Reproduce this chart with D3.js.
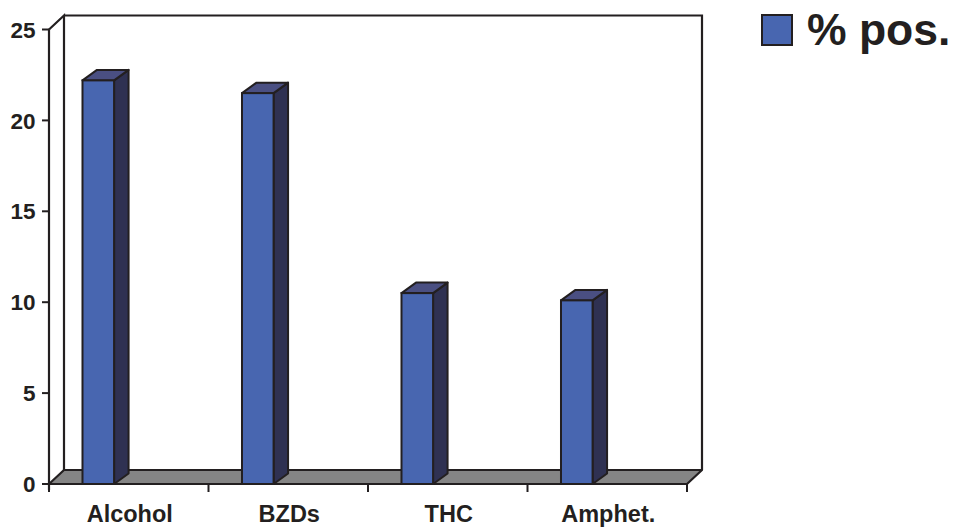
<!DOCTYPE html>
<html>
<head>
<meta charset="utf-8">
<script src="https://cdn.jsdelivr.net/npm/d3@7/dist/d3.min.js"></script>
<style>
  html, body { margin: 0; padding: 0; background: #fff; }
  svg { display: block; }
  text { font-family: "Liberation Sans", Arial, sans-serif; font-weight: bold; fill: #231f20; }
</style>
</head>
<body>
<svg id="chart" width="962" height="527"></svg>
<script>
// Share of positive samples per substance
const categories = ["Alcohol", "BZDs", "THC", "Amphet."];
const percentPositive = [22.2, 21.5, 10.5, 10.1];
const yTicks = [0, 5, 10, 15, 20, 25];
const seriesName = "% pos.";

const ink = "#231f20";
const frontBlue = "#4866b0", sideBlue = "#2f3152", topBlue = "#4a4f82";
const floorGrey = "#858585";

// front plane of the 3D box
const plotLeft = 49, plotRight = 687, plotBottom = 484, plotTop = 29.5;
// depth offset of the walls and of the columns
const wallDx = 15, wallDy = -14;
const barDx = 14.5, barDy = -10.5;

const svg = d3.select("#chart");

const x = d3.scaleBand().domain(categories).range([plotLeft, plotRight]).padding(0);
const y = d3.scaleLinear().domain([0, 25]).range([plotBottom, plotTop]);

const line = d3.line();

// back wall
svg.append("path")
  .attr("d", line([[plotLeft + wallDx, y(25) + wallDy], [plotRight + wallDx, y(25) + wallDy],
                   [plotRight + wallDx, plotBottom + wallDy], [plotLeft + wallDx, plotBottom + wallDy]]) + "Z")
  .attr("fill", "#fff").attr("stroke", "none");

// side wall outline
svg.append("path")
  .attr("d", line([[plotLeft, y(25)], [plotLeft + wallDx, y(25) + wallDy], [plotLeft + wallDx, plotBottom + wallDy]]))
  .attr("fill", "none").attr("stroke", ink).attr("stroke-width", 2.2);

// back wall top and right edges
svg.append("path")
  .attr("d", line([[plotLeft + wallDx, y(25) + wallDy], [plotRight + wallDx, y(25) + wallDy], [plotRight + wallDx, plotBottom + wallDy]]))
  .attr("fill", "none").attr("stroke", ink).attr("stroke-width", 2.2);

// floor
svg.append("path")
  .attr("d", line([[plotLeft, plotBottom], [plotLeft + wallDx, plotBottom + wallDy], [plotRight + wallDx, plotBottom + wallDy], [plotRight, plotBottom]]) + "Z")
  .attr("fill", floorGrey).attr("stroke", ink).attr("stroke-width", 2.2).attr("stroke-linejoin", "round");

// columns
const bw = x.bandwidth();
const bars = svg.append("g").selectAll("g")
  .data(categories.map((c, i) => ({ c, v: percentPositive[i] })))
  .join("g");

bars.each(function (d) {
  const g = d3.select(this);
  const x0 = x(d.c) + bw * 0.21, x1 = x0 + bw * 0.198;
  const yt = y(d.v), yb = y(0);
  // side face
  g.append("path")
    .attr("d", line([[x1, yb], [x1, yt], [x1 + barDx, yt + barDy], [x1 + barDx, yb + barDy]]) + "Z")
    .attr("fill", sideBlue).attr("stroke", ink).attr("stroke-width", 2).attr("stroke-linejoin", "round");
  // top face
  g.append("path")
    .attr("d", line([[x0, yt], [x0 + barDx, yt + barDy], [x1 + barDx, yt + barDy], [x1, yt]]) + "Z")
    .attr("fill", topBlue).attr("stroke", ink).attr("stroke-width", 2).attr("stroke-linejoin", "round");
  // front face
  g.append("rect")
    .attr("x", x0).attr("y", yt).attr("width", x1 - x0).attr("height", yb - yt)
    .attr("fill", frontBlue).attr("stroke", ink).attr("stroke-width", 2);
});

// value axis
const yAxis = svg.append("g");
yAxis.append("line")
  .attr("x1", plotLeft).attr("x2", plotLeft).attr("y1", y(25)).attr("y2", plotBottom + 6)
  .attr("stroke", ink).attr("stroke-width", 2.2);
yAxis.selectAll("line.tick").data(yTicks).join("line").attr("class", "tick")
  .attr("x1", plotLeft - 7).attr("x2", plotLeft).attr("y1", d => y(d)).attr("y2", d => y(d))
  .attr("stroke", ink).attr("stroke-width", 2);
yAxis.selectAll("text").data(yTicks).join("text")
  .attr("x", 35.5).attr("y", d => y(d)).attr("dy", "0.36em")
  .attr("text-anchor", "end").attr("font-size", 22.5)
  .text(d => d);

// category axis
const xAxis = svg.append("g");
const bounds = categories.map(c => x(c)).concat([plotRight]);
xAxis.selectAll("line").data(bounds).join("line")
  .attr("x1", d => d).attr("x2", d => d).attr("y1", plotBottom).attr("y2", plotBottom + 8)
  .attr("stroke", ink).attr("stroke-width", 2);
xAxis.selectAll("text").data(categories).join("text")
  .attr("x", d => x(d) + bw / 2 + 1).attr("y", 521.5)
  .attr("text-anchor", "middle").attr("font-size", 23.5)
  .text(d => d);

// legend
const legend = svg.append("g");
legend.append("rect")
  .attr("x", 762).attr("y", 15).attr("width", 30).attr("height", 30)
  .attr("fill", frontBlue).attr("stroke", ink).attr("stroke-width", 2);
legend.append("text")
  .attr("x", 807).attr("y", 45).attr("font-size", 44.5)
  .text(seriesName);
</script>
</body>
</html>
